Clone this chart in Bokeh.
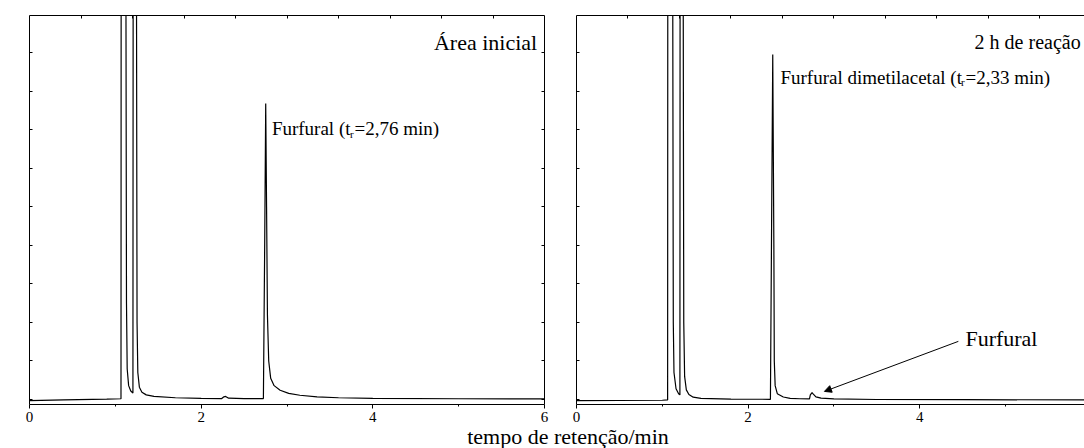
from bokeh.plotting import figure
from bokeh.models import Range1d, LinearAxis, FixedTicker, Label, Arrow, NormalHead
from bokeh.layouts import row, column
from bokeh.embed import file_html
from bokeh.resources import INLINE

FONT = "Liberation Serif"

# Chromatogram before reaction (retention time in min, signal in a.u.)
t_initial = [0.00, 0.40, 0.90, 1.066, 1.070, 1.118, 1.124, 1.130, 1.138, 1.155,
             1.180, 1.205, 1.211, 1.241, 1.247, 1.253, 1.262, 1.280, 1.310, 1.360,
             1.450, 1.700, 2.000, 2.240, 2.265, 2.285, 2.320, 2.500, 2.725, 2.740,
             2.752, 2.762, 2.772, 2.787, 2.810, 2.850, 2.920, 3.020, 3.150, 3.350,
             3.600, 4.000, 5.000, 6.000]
s_initial = [-0.3, -0.1, 0.1, 0.2, 250, 250, 100, 25, 8, 3.6,
             2.2, 1.7, 250, 250, 100, 20, 7, 3.2, 1.9, 1.2,
             0.8, 0.45, 0.3, 0.25, 0.7, 0.8, 0.35, 0.25, 0.25, 40,
             76.9, 50, 22, 10, 5.5, 3.6, 2.4, 1.6, 1.1, 0.7,
             0.45, 0.3, 0.2, 0.15]

# Chromatogram after 2 h of reaction
t_2h = [0.00, 1.000, 1.062, 1.066, 1.115, 1.122, 1.128, 1.136, 1.160, 1.190,
        1.205, 1.210, 1.238, 1.244, 1.250, 1.260, 1.280, 1.310, 1.360, 1.450,
        1.800, 2.260, 2.272, 2.287, 2.300, 2.305, 2.315, 2.340, 2.410, 2.490,
        2.600, 2.715, 2.725, 2.745, 2.760, 2.790, 2.850, 3.000, 3.500, 4.500,
        5.920]
s_2h = [-0.3, -0.2, -0.1, 250, 250, 100, 20, 7, 2.8, 1.5,
        1.2, 250, 250, 100, 20, 6, 2.5, 1.3, 0.6, 0.3,
        0.1, 0.05, 40, 89.6, 40, 10, 3.6, 1.5, 0.65, 0.3,
        0.2, 0.15, 1.2, 1.8, 1.4, 0.7, 0.35, 0.15, 0.0, -0.05,
        -0.1]

x_major_ticks = [0, 2, 4, 6]
x_minor_ticks = [1, 3, 5]
top_ticks = [0.6, 1.2, 1.8, 2.4, 3.0, 3.6, 4.2, 4.8, 5.4]
y_ticks = [0, 10, 20, 30, 40, 50, 60, 70, 80, 90]

Y_RANGE = (-1.3, 99.74)
ROW_HEIGHT = 428
TITLE_HEIGHT = 40
TITLE_OVERLAP = TITLE_HEIGHT - (448 - ROW_HEIGHT)


def bare_axis(ticks, tick_len):
    # axis line with short inward marks only, no labels
    ax = LinearAxis(ticker=FixedTicker(ticks=[], minor_ticks=ticks))
    ax.major_tick_in = 0
    ax.major_tick_out = 0
    ax.minor_tick_in = tick_len
    ax.minor_tick_out = 0
    ax.major_label_standoff = 0
    ax.axis_line_color = "black"
    ax.minor_tick_line_color = "black"
    return ax


def make_panel(t, s, width, x_end, border_left, border_right, with_right_axis):
    p = figure(width=width, height=ROW_HEIGHT,
               x_range=Range1d(0, x_end), y_range=Range1d(*Y_RANGE),
               output_backend="svg", toolbar_location=None,
               x_axis_location=None, y_axis_location=None,
               min_border_left=border_left, min_border_right=border_right,
               min_border_top=15, min_border_bottom=ROW_HEIGHT - 15 - 389)
    p.title.visible = False
    p.outline_line_color = None
    p.xgrid.visible = False
    p.ygrid.visible = False

    bottom = LinearAxis(ticker=FixedTicker(ticks=x_major_ticks, minor_ticks=x_minor_ticks))
    bottom.major_tick_in = 0
    bottom.major_tick_out = 4
    bottom.minor_tick_in = 0
    bottom.minor_tick_out = 2
    bottom.major_label_text_font = FONT
    bottom.major_label_text_font_size = "15px"
    bottom.major_label_text_color = "black"
    bottom.major_label_standoff = 3
    bottom.axis_line_color = "black"
    bottom.major_tick_line_color = "black"
    bottom.minor_tick_line_color = "black"
    p.add_layout(bottom, "below")

    p.add_layout(bare_axis(y_ticks, 3), "left")
    p.add_layout(bare_axis(top_ticks, 3), "above")
    if with_right_axis:
        p.add_layout(bare_axis(y_ticks, 3), "right")

    p.line(t, s, line_color="black", line_width=1.2)
    return p


def label(p, x, y, text, size, align="left", **kw):
    p.add_layout(Label(x=x, y=y, text=text, text_font=FONT, text_font_size=size,
                       text_align=align, text_baseline="alphabetic",
                       text_color="black", **kw))


# Left panel: initial area
p1 = make_panel(t_initial, s_initial, 560, 6, 29, 16, True)
label(p1, 5.915, 92.8, "Área inicial", "22px", align="right")
label(p1, 2.824, 70.3, "Furfural (t", "19px")
label(p1, 2.824, 70.3, "r", "11px", x_offset=78, y_offset=-5)
label(p1, 2.824, 70.3, "=2,76 min)", "19px", x_offset=82.6)
p1.add_layout(Label(x=-0.167, y=48.0, text="Sinal/u.a.", text_font=FONT,
                    text_font_size="21px", text_align="center",
                    text_baseline="middle", angle=1.5708, text_color="black"))

# Right panel: after 2 h of reaction
p2 = make_panel(t_2h, s_2h, 524, 5.92, 16, 0, False)
label(p2, 5.875, 92.8, "2 h de reação", "20px", align="right")
label(p2, 2.377, 83.7, "Furfural dimetilacetal (t", "19px")
label(p2, 2.377, 83.7, "r", "11px", x_offset=180.5, y_offset=-5)
label(p2, 2.377, 83.7, "=2,33 min)", "19px", x_offset=185)
label(p2, 4.532, 15.8, "Furfural", "22px")
p2.add_layout(Arrow(end=NormalHead(size=7, fill_color="black", line_color="black", line_width=1),
                    x_start=4.450, y_start=15.1, x_end=2.889, y_end=2.1,
                    line_color="black", line_width=1))

# Shared x-axis title under both panels (transparent strip pulled up over the row)
p3 = figure(width=1084, height=TITLE_HEIGHT, x_range=Range1d(0, 1084),
            y_range=Range1d(0, TITLE_HEIGHT), output_backend="svg",
            toolbar_location=None, x_axis_location=None, y_axis_location=None,
            min_border=0, margin=(-TITLE_OVERLAP, 0, 0, 0))
p3.title.visible = False
p3.outline_line_color = None
p3.background_fill_alpha = 0
p3.border_fill_alpha = 0
p3.xgrid.visible = False
p3.ygrid.visible = False
p3.add_layout(Label(x=567.5, y=448 - 423.0, text="tempo de retenção/min", text_font=FONT,
                    text_font_size="22px", text_align="center",
                    text_baseline="top", text_color="black"))

layout = column(row(p1, p2), p3)
open("out.html", "w").write(file_html(layout, INLINE))
